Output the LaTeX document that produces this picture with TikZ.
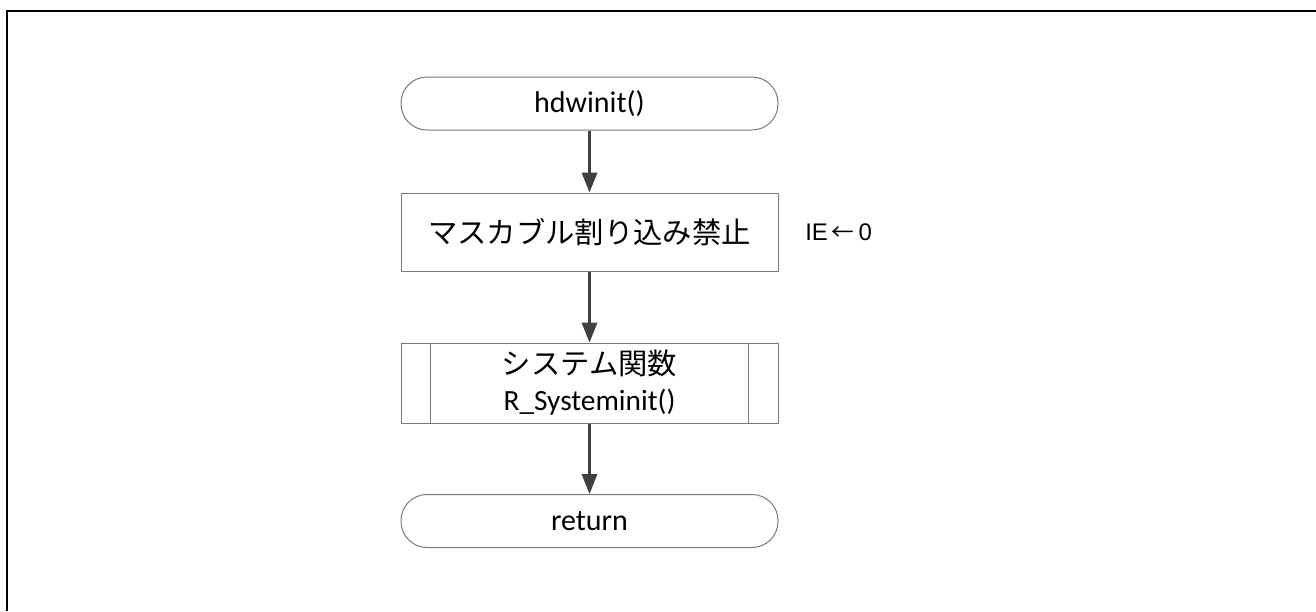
\documentclass[tikz,border=0pt]{standalone}
\usepackage{fontspec}
\setmainfont{Carlito}
\newfontfamily\jpfont{Noto Sans CJK JP}
\newfontfamily\arialfont{Liberation Sans}
\usetikzlibrary{arrows.meta,calc}
\definecolor{boxline}{HTML}{7A7A7A}
\definecolor{flowline}{HTML}{404040}
\begin{document}
\begin{tikzpicture}[x=0.75pt,y=-0.75pt,
  terminal/.style={draw=boxline, line width=0.75pt, rounded corners=19.5pt,
    minimum width=282.75pt, minimum height=39.75pt, inner sep=0pt,
    font=\fontsize{22.5}{27}\selectfont},
  procbox/.style={draw=boxline, line width=0.75pt,
    minimum width=282.75pt, minimum height=58.5pt, inner sep=0pt,
    font=\fontsize{22}{27}\selectfont},
  subbox/.style={draw=boxline, line width=0.75pt,
    minimum width=282.75pt, minimum height=60pt, inner sep=0pt, align=center,
    font=\fontsize{22}{28}\selectfont},
  flow/.style={draw=flowline, line width=1.8pt,
    -{Triangle[length=15pt,width=11.5pt]}},
  note/.style={font=\arialfont\fontsize{18}{20}\selectfont, anchor=west, inner sep=0pt}]
  \useasboundingbox (0,0) rectangle (1316,611);
  % outer frame (top and left edges)
  \draw[line width=1.5pt] (7,611) -- (7,11) -- (1316,11);

  % flow nodes
  \node[terminal] (start) at (589.5,103.5) {hdwinit()};
  \node[procbox] (mask) at (589.5,232) {\jpfont マスカブル割り込み禁止};
  \node[subbox] (sys) at (589.5,383) {{\jpfont システム関数}\\[-1pt] R\_Systeminit()};
  \draw[boxline, line width=0.75pt]
    ($(sys.north west)+(30,0)$) -- ($(sys.south west)+(30,0)$)
    ($(sys.north east)+(-30,0)$) -- ($(sys.south east)+(-30,0)$);
  \node[terminal] (ret) at (589.5,521) {return};

  % side note
  \node[note] (ie) at (805,232) {IE\hspace{3pt}{\jpfont\fontsize{17}{20}\selectfont ←}\hspace{3pt}0};

  % connectors
  \draw[flow] (start) -- (mask);
  \draw[flow] (mask) -- (sys);
  \draw[flow] (sys) -- (ret);
\end{tikzpicture}
\end{document}
